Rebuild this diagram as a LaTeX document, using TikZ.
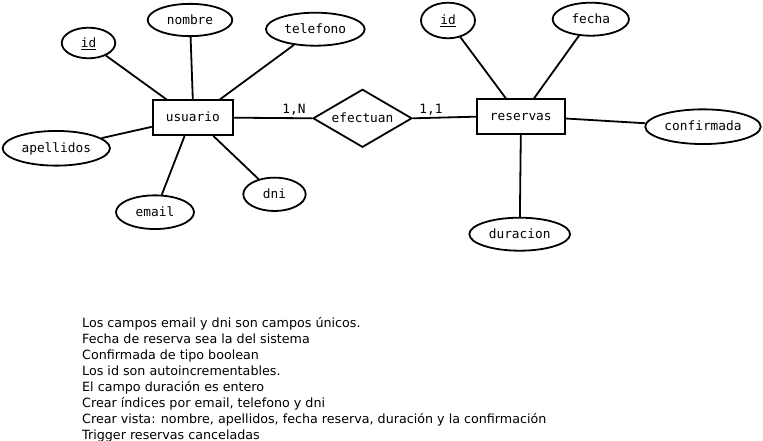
\documentclass[tikz,border=0pt]{standalone}
\usepackage{fontspec}
\setmainfont{DejaVu Sans}
\newfontfamily\ermono{DejaVu Sans Mono}
\usetikzlibrary{shapes.geometric,calc}
\begin{document}
\begin{tikzpicture}[x=1bp,y=-1bp,
  erline/.style={line width=1.8bp},
  lbl/.style={font=\ermono\fontsize{12.8bp}{15bp}\selectfont, text height=9.5bp, text depth=1.1bp, inner sep=0pt},
  attr/.style={lbl, ellipse, draw, erline},
  ent/.style={lbl, rectangle, draw, erline},
  rel/.style={lbl, diamond, draw, erline, aspect=1.7},
  card/.style={font=\ermono\fontsize{12.8bp}{15bp}\selectfont, inner sep=0pt, anchor=base},
  note/.style={font=\fontsize{12.7bp}{16bp}\selectfont, inner sep=0pt, anchor=base west}
]
\useasboundingbox (0,0) rectangle (763,441);
% entities
\node[ent, minimum width=80.3bp, minimum height=34.7bp] (usuario) at (192.8,117.7) {usuario};
\node[ent, minimum width=88.3bp, minimum height=34.7bp] (reservas) at (520.8,116.7) {reservas};
\node[rel, minimum width=99bp, minimum height=58bp] (efectuan) at (362.5,118.3) {efectuan};
% attributes of usuario
\node[attr, minimum width=53.5bp, minimum height=30.6bp] (id1) at (88.5,43) {\underline{id}};
\node[attr, minimum width=84.6bp, minimum height=32.3bp] (nombre) at (190,20) {nombre};
\node[attr, minimum width=98.7bp, minimum height=33bp] (telefono) at (315.3,29.2) {telefono};
\node[attr, minimum width=107.3bp, minimum height=34.7bp] (apellidos) at (56.3,148.3) {apellidos};
\node[attr, minimum width=78bp, minimum height=33.7bp] (email) at (155,212.2) {email};
\node[attr, minimum width=62.4bp, minimum height=33.3bp] (dni) at (274.5,194.3) {dni};
% attributes of reservas
\node[attr, minimum width=54bp, minimum height=35.6bp] (id2) at (448,20.5) {\underline{id}};
\node[attr, minimum width=76.3bp, minimum height=33bp] (fecha) at (590.8,19.2) {fecha};
\node[attr, minimum width=115.4bp, minimum height=34.7bp] (confirmada) at (703,126.7) {confirmada};
\node[attr, minimum width=100.7bp, minimum height=33bp] (duracion) at (519.7,234.2) {duracion};
% connectors
\draw[erline] (id1) -- ($(usuario.north west)!0.18!(usuario.north east)$);
\draw[erline] (nombre) -- (usuario.north);
\draw[erline] (telefono) -- ($(usuario.north west)!0.83!(usuario.north east)$);
\draw[erline] (apellidos) -- ($(usuario.north west)!0.75!(usuario.south west)$);
\draw[erline] (email) -- ($(usuario.south west)!0.4!(usuario.south east)$);
\draw[erline] (dni) -- ($(usuario.south west)!0.75!(usuario.south east)$);
\draw[erline] (usuario.east) -- (efectuan.west);
\draw[erline] (efectuan.east) -- (reservas.west);
\draw[erline] (id2) -- ($(reservas.north west)!0.335!(reservas.north east)$);
\draw[erline] (fecha) -- ($(reservas.north west)!0.646!(reservas.north east)$);
\draw[erline] (confirmada) -- ($(reservas.north east)!0.55!(reservas.south east)$);
\draw[erline] (duracion) -- (reservas.south);
% cardinalities
\node[card] (cardN) at (294,113.3) {1,N};
\node[card] (card1) at (431,113.3) {1,1};
% notes
\node[note] (n1) at (82,327.3) {Los campos email y dni son campos únicos.};
\node[note] (n2) at (82,343.3) {Fecha de reserva sea la del sistema};
\node[note] (n3) at (82,359.3) {Confirmada de tipo boolean};
\node[note] (n4) at (82,375.3) {Los id son autoincrementables.};
\node[note] (n5) at (82,391.3) {El campo duración es entero};
\node[note] (n6) at (82,407.3) {Crear índices por email, telefono y dni};
\node[note] (n7) at (82,423.3) {Crear vista: nombre, apellidos, fecha reserva, duración y la confirmación};
\node[note] (n8) at (82,439.3) {Trigger reservas canceladas};
\end{tikzpicture}
\end{document}
